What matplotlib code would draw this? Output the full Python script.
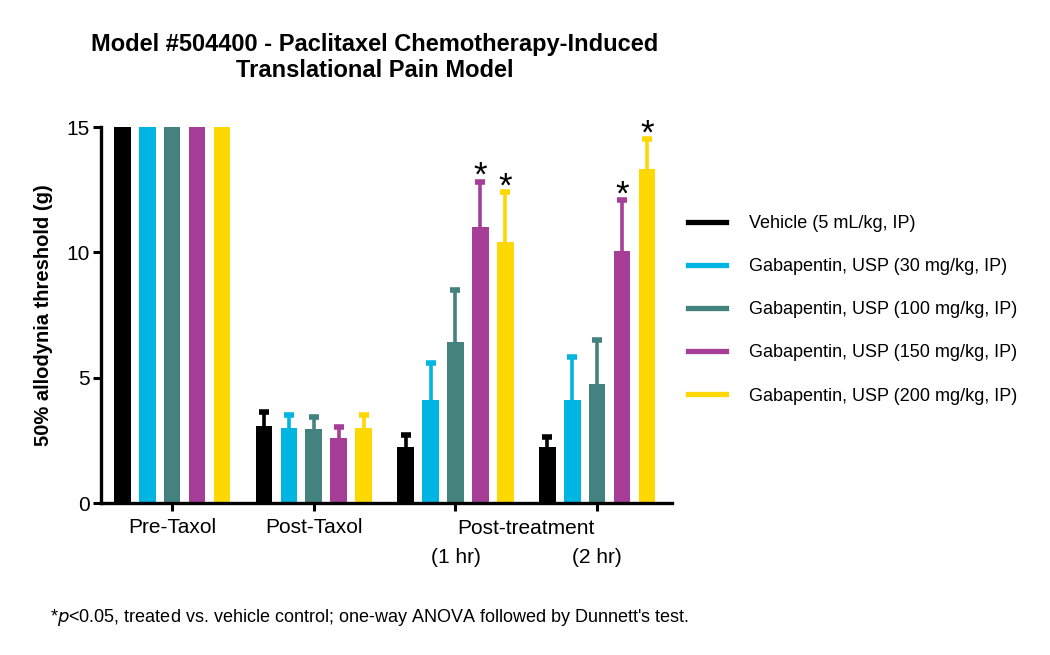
import numpy as np
import matplotlib
matplotlib.use("Agg")
import matplotlib.pyplot as plt
from matplotlib.lines import Line2D
from matplotlib.transforms import blended_transform_factory

plt.rcParams['font.family'] = ['Liberation Sans', 'DejaVu Sans']

groups = ["Pre-Taxol", "Post-Taxol", "(1 hr)", "(2 hr)"]
treatments = ["Vehicle (5 mL/kg, IP)",
              "Gabapentin, USP (30 mg/kg, IP)",
              "Gabapentin, USP (100 mg/kg, IP)",
              "Gabapentin, USP (150 mg/kg, IP)",
              "Gabapentin, USP (200 mg/kg, IP)"]
colors = ["#000000", "#00B5E2", "#43827E", "#A63E98", "#FFD800"]

# mean threshold per treatment, over groups
means = [[15, 3.07, 2.25, 2.22],
         [15, 2.98, 4.11, 4.11],
         [15, 2.95, 6.43, 4.75],
         [15, 2.58, 11.00, 10.05],
         [15, 3.00, 10.42, 13.31]]
# upper error (SEM)
errs = [[0, 0.57, 0.46, 0.43],
        [0, 0.53, 1.46, 1.70],
        [0, 0.49, 2.07, 1.75],
        [0, 0.46, 1.82, 2.04],
        [0, 0.51, 1.97, 1.20]]
# significance flags (p<0.05)
sig = [[0, 0, 0, 0],
       [0, 0, 0, 0],
       [0, 0, 0, 0],
       [0, 0, 1, 1],
       [0, 0, 1, 1]]

fig = plt.figure(figsize=(10.5, 6.55), dpi=100)
ax = fig.add_axes([0.0962, 0.232, 0.544, 0.574])

x = np.arange(len(groups))
pitch = 0.176
width = 0.118
for i in range(len(treatments)):
    xs = x + (i - 2) * pitch
    m = np.array(means[i])
    e = np.array(errs[i])
    ax.bar(xs, m, width=width, color=colors[i], zorder=2)
    has = e > 0
    # one-sided error bars, cap only on top
    ax.vlines(xs[has], m[has], m[has] + e[has], color=colors[i], lw=2.6, zorder=2)
    ax.plot(xs[has], m[has] + e[has], ls='none', marker='_', ms=7, mew=4,
            color=colors[i], zorder=2)
    for j in range(len(groups)):
        if sig[i][j]:
            ax.text(xs[j], m[j] + e[j] - 0.45, "*", ha='center', va='bottom',
                    fontsize=25, color='black')

ax.set_xlim(-0.502, 3.53)
ax.set_ylim(0, 15)
ax.set_yticks([0, 5, 10, 15])
ax.set_xticks(x)
ax.set_xticklabels(["Pre-Taxol", "Post-Taxol", "", ""], fontsize=15)
ax.tick_params(axis='both', direction='out', length=6, width=2.2, labelsize=15, pad=2)
ax.tick_params(axis='x', pad=5)
for s in ['top', 'right']:
    ax.spines[s].set_visible(False)
for s in ['left', 'bottom']:
    ax.spines[s].set_linewidth(2.4)
ax.set_ylabel("50% allodynia threshold (g)", fontsize=14.5, fontweight='bold', labelpad=10)

trans = blended_transform_factory(ax.transData, ax.transAxes)
ax.text(2.5, -0.0665, "Post-treatment", transform=trans, ha='center', va='center', fontsize=15)
for j in (2, 3):
    ax.text(x[j], -0.146, groups[j], transform=trans, ha='center', va='center', fontsize=15)

fig.suptitle("Model #504400 - Paclitaxel Chemotherapy-Induced\nTranslational Pain Model",
             x=0.357, y=0.95, fontsize=17, fontweight='bold', linespacing=1.2)

handles = [Line2D([0], [0], color=c, lw=3.8) for c in colors]
fig.legend(handles, treatments, loc='center left', bbox_to_anchor=(0.655, 0.527),
           frameon=False, fontsize=13, handlelength=2.1, handletextpad=1.3,
           labelspacing=1.45, borderpad=0, borderaxespad=0)

fig.text(0.048, 0.057, r"*$\it{p}$<0.05, treated vs. vehicle control; one-way ANOVA followed by Dunnett's test.",
         fontsize=13, ha='left', va='center')

fig.savefig("out.png", dpi=100)
